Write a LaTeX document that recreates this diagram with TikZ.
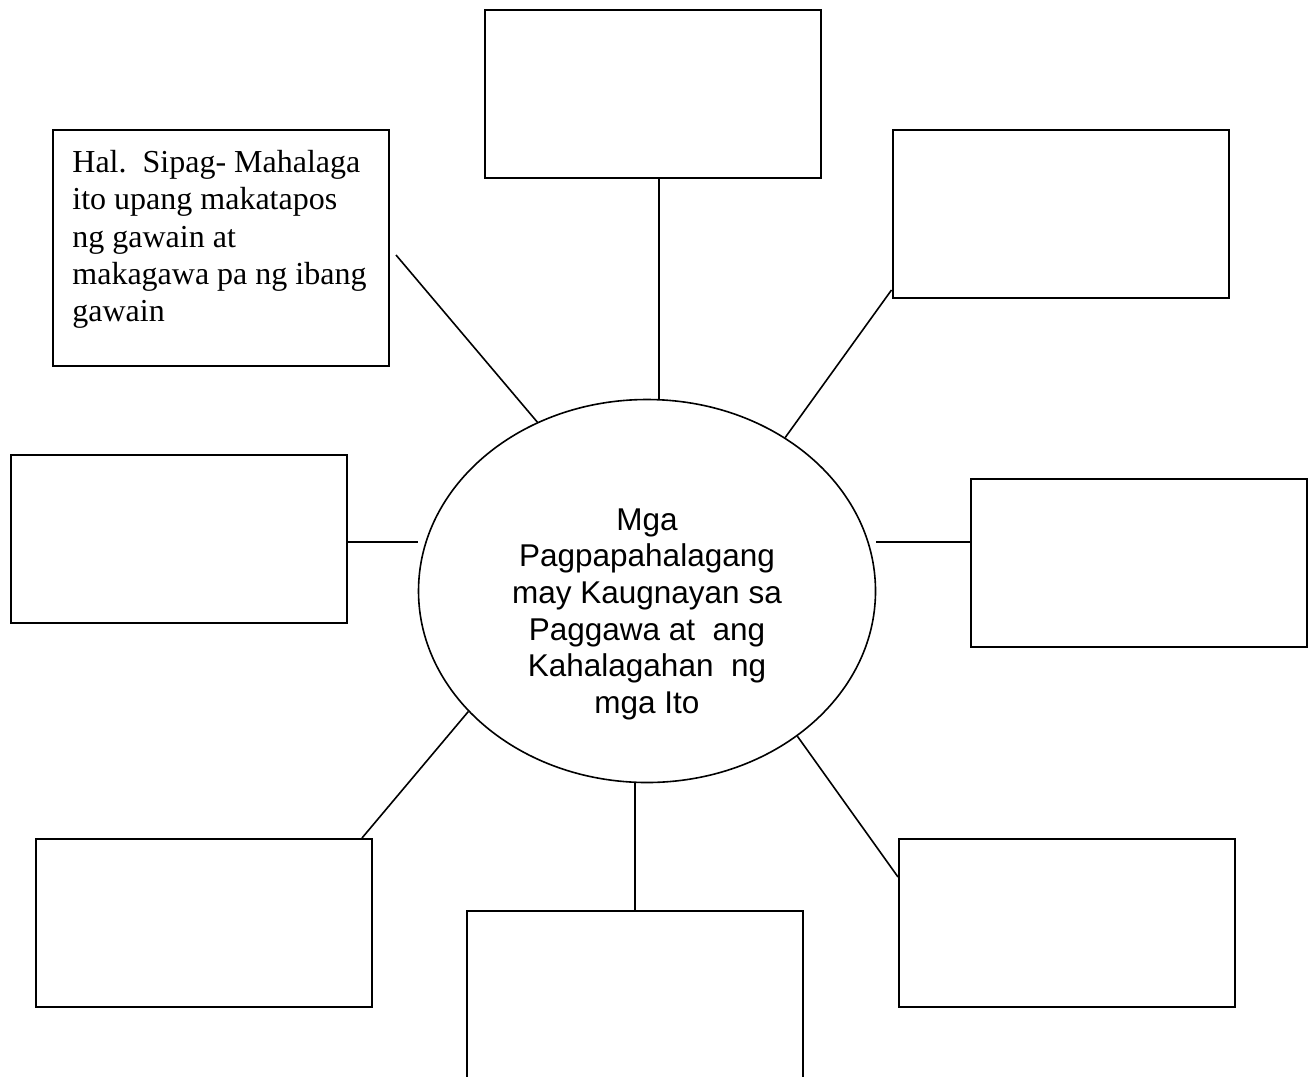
\documentclass[tikz,border=0pt]{standalone}
\usepackage{fontspec}
\setmainfont{Liberation Serif}
\newfontfamily\hubfont{Liberation Sans}
\usetikzlibrary{shapes.geometric, calc}
\tikzset{
    card/.style={draw, line width=1pt, minimum width=168pt, minimum height=84pt,
                 inner sep=0pt},
    tallcard/.style={card, minimum height=118pt},
    hub/.style={ellipse, draw, line width=0.8pt, minimum width=228.5pt,
                minimum height=191.5pt, inner sep=0pt},
    hubtext/.style={align=center, inner sep=0pt,
                    font=\hubfont\fontsize{15.75}{18.35}\selectfont},
    notetext/.style={align=left, inner sep=0pt,
                     font=\fontsize{16}{18.6}\selectfont},
    spoke/.style={-, line width=0.8pt},
}

\begin{document}
\begin{tikzpicture}[x=0.5pt, y=-0.5pt]
    \useasboundingbox (0,0) rectangle (1309,1076);
    % centre ellipse
    \node[hub] (hub) at (647,591) {};
    \node[hubtext, anchor=north] (title) at ($(hub.center)+(0,-83)$)
        {Mga\\ Pagpapahalagang\\ may Kaugnayan sa\\ Paggawa at\ \ ang\\
         Kahalagahan\ \ ng\\ mga Ito};
    % surrounding boxes
    \node[card] (top) at (653,94) {};
    \node[tallcard] (tl) at (221,248) {};
    \node[notetext, anchor=north west] (tlnote) at ($(tl.north west)+(20,21)$)
        {Hal.\ \ Sipag- Mahalaga\\ ito upang makatapos\\ ng gawain at\\
         makagawa pa ng ibang\\ gawain};
    \node[card] (tr) at (1060.5,214) {};
    \node[card] (left) at (179,539) {};
    \node[card] (right) at (1138.5,563) {};
    \node[card] (bl) at (204,923) {};
    \node[card] (bc) at (635,995) {};
    \node[card] (br) at (1067,923) {};
    % spokes
    \coordinate (topfoot) at ([xshift=3pt]top.south);
    \coordinate (leftfoot) at ([yshift=-1.5pt]left.east);
    \coordinate (rightfoot) at ([yshift=10.5pt]right.west);
    \draw[spoke] (topfoot) -- (topfoot |- hub.north);
    \draw[spoke] ($(tl.east)+(6,7)$) -- (hub.123);
    \draw[spoke] ($(tr.south west)+(0,-9)$) -- (hub.48);
    \draw[spoke] (leftfoot) -- (leftfoot -| hub.west);
    \draw[spoke] (hub.east |- rightfoot) -- (rightfoot);
    \draw[spoke] ($(bl.north east)+(-11,0)$) -- (hub.214);
    \draw[spoke] (bc.north) -- (bc.north |- hub.south);
    \draw[spoke] ($(br.west)+(0,-46)$) -- (hub.316);
\end{tikzpicture}
\end{document}
